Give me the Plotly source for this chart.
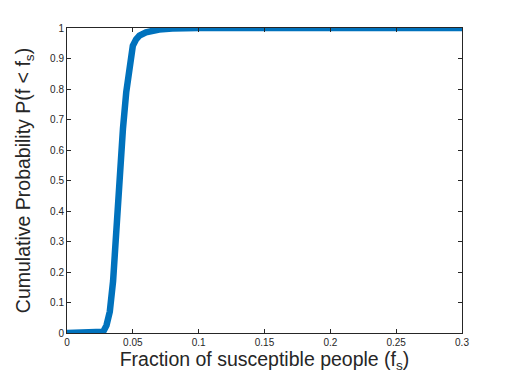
import plotly.graph_objects as go

# fraction of susceptible people vs cumulative probability
frac = [0.0, 0.025, 0.0275, 0.03, 0.0325, 0.035, 0.0375, 0.04, 0.0425, 0.045,
        0.0475, 0.05, 0.0525, 0.055, 0.06, 0.065, 0.07, 0.08, 0.1, 0.3]
cum_prob = [0.0, 0.0, 0.004, 0.025, 0.07, 0.17, 0.36, 0.53, 0.67, 0.79,
            0.89, 0.942, 0.963, 0.975, 0.986, 0.992, 0.995, 0.998, 1.0, 1.0]

x_ticks = [0, 0.05, 0.1, 0.15, 0.2, 0.25, 0.3]
x_ticktext = ['0', '0.05', '0.1', '0.15', '0.2', '0.25', '0.3']
y_ticks = [0, 0.1, 0.2, 0.3, 0.4, 0.5, 0.6, 0.7, 0.8, 0.9, 1]
y_ticktext = ['0', '0.1', '0.2', '0.3', '0.4', '0.5', '0.6', '0.7', '0.8', '0.9', '1']

axis_col = '#262626'
font_fam = 'Liberation Sans, Arial, sans-serif'

fig = go.Figure(go.Scatter(x=frac, y=cum_prob, mode='lines',
                           line=dict(color='#0072BD', width=6.5), showlegend=False))

common = dict(showgrid=False, zeroline=False, showline=True, linecolor=axis_col, linewidth=1,
              mirror='ticks', ticks='inside', ticklen=4, tickcolor=axis_col,
              tickfont=dict(family=font_fam, size=10, color=axis_col), automargin=False)

fig.update_layout(
    width=512, height=384,
    margin=dict(l=67, r=50, t=28, b=51),
    paper_bgcolor='white', plot_bgcolor='white',
    font=dict(family=font_fam, color=axis_col),
    xaxis=dict(range=[0, 0.3], tickvals=x_ticks, ticktext=x_ticktext,
               title=dict(text='Fraction of susceptible people (f<sub>s</sub>)',
                          font=dict(size=19.5, color=axis_col), standoff=2),
               **common),
    yaxis=dict(range=[0, 1], tickvals=y_ticks, ticktext=y_ticktext,
               title=dict(text='Cumulative Probability P(f < f<sub>s</sub>)',
                          font=dict(size=19.5, color=axis_col), standoff=14),
               **common),
)

# page body has a default margin; drop it so the figure sits at the window corner
fig.write_html("out.html", config={'displayModeBar': False},
               post_script="document.body.style.margin='0';")
